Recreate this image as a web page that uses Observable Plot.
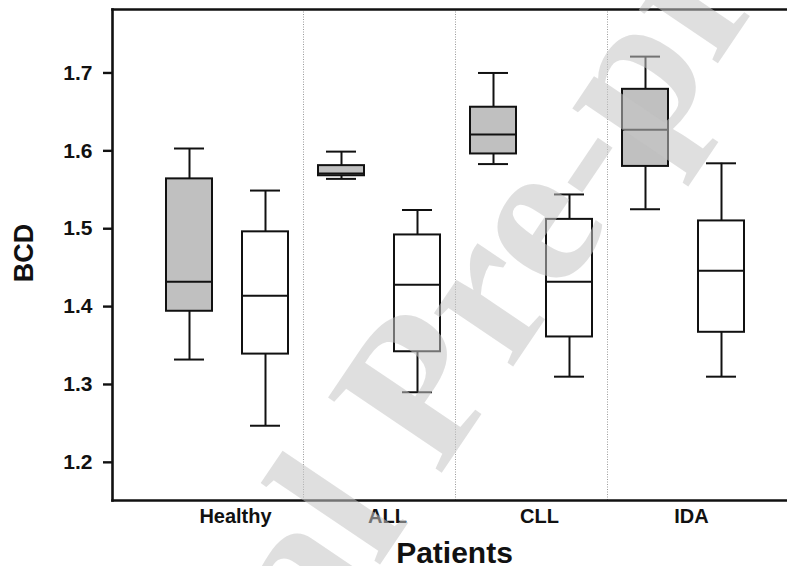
<!DOCTYPE html>
<html>
<head>
<meta charset="utf-8">
<script src="https://cdn.jsdelivr.net/npm/d3@7"></script>
<script src="https://cdn.jsdelivr.net/npm/@observablehq/plot@0.6"></script>
<style>
  html, body { margin: 0; padding: 0; background: #fff; }
  #chart { width: 787px; height: 566px; overflow: hidden; }
</style>
</head>
<body>
<div id="chart"></div>
<script>
// ---- data ----
const groups = ["Healthy", "ALL", "CLL", "IDA"];
const yTicks = [1.2, 1.3, 1.4, 1.5, 1.6, 1.7];

// grey (first) boxes
const grayLow  = [1.332, 1.564, 1.583, 1.525];
const grayQ1   = [1.394, 1.568, 1.596, 1.580];
const grayMed  = [1.432, 1.571, 1.621, 1.627];
const grayQ3   = [1.564, 1.581, 1.656, 1.679];
const grayHigh = [1.603, 1.599, 1.700, 1.721];

// white (second) boxes
const whiteLow  = [1.247, 1.290, 1.310, 1.310];
const whiteQ1   = [1.339, 1.342, 1.361, 1.367];
const whiteMed  = [1.414, 1.428, 1.432, 1.446];
const whiteQ3   = [1.496, 1.492, 1.512, 1.510];
const whiteHigh = [1.549, 1.524, 1.544, 1.584];

const watermark = "Journal Pre-proof";

// ---- build tables ----
const grayRows = groups.map((g, i) => ({key: g + "|gray", low: grayLow[i], q1: grayQ1[i], med: grayMed[i], q3: grayQ3[i], high: grayHigh[i]}));
const whiteRows = groups.map((g, i) => ({key: g + "|white", low: whiteLow[i], q1: whiteQ1[i], med: whiteMed[i], q3: whiteQ3[i], high: whiteHigh[i]}));
const allRows = grayRows.concat(whiteRows);
const keys = groups.flatMap(g => [g + "|gray", g + "|white"]);

const W = 787, H = 566;
const lineW = 2;

const chart = Plot.plot({
  width: W,
  height: H,
  marginLeft: 112,
  marginRight: 0,
  marginTop: 9,
  marginBottom: 66,
  style: {fontFamily: "'Liberation Sans', Arial, sans-serif", background: "#fff", color: "#111", overflow: "hidden"},
  x: {type: "band", domain: keys, range: [150.3, 758.3], paddingInner: 0.4, paddingOuter: 0.2, axis: null},
  y: {domain: [1.151, 1.7815], axis: null},
  marks: [
    // group separators
    Plot.ruleX(groups.slice(1).map(g => g + "|gray"), {x: d => d, dx: -38, stroke: "#9a9a9a", strokeWidth: 1, strokeDasharray: "1,1.5"}),
    // whiskers
    Plot.ruleX(allRows, {x: "key", y1: "low", y2: "q1", stroke: "#111", strokeWidth: lineW}),
    Plot.ruleX(allRows, {x: "key", y1: "q3", y2: "high", stroke: "#111", strokeWidth: lineW}),
    Plot.tickY(allRows, {x: "key", y: "low", stroke: "#111", strokeWidth: lineW, insetLeft: 8, insetRight: 8}),
    Plot.tickY(allRows, {x: "key", y: "high", stroke: "#111", strokeWidth: lineW, insetLeft: 8, insetRight: 8}),
    // boxes
    Plot.barY(grayRows, {x: "key", y1: "q1", y2: "q3", fill: "#c0c0c0", stroke: "#111", strokeWidth: lineW}),
    Plot.barY(whiteRows, {x: "key", y1: "q1", y2: "q3", fill: "#ffffff", stroke: "#111", strokeWidth: lineW}),
    Plot.tickY(allRows, {x: "key", y: "med", stroke: "#111", strokeWidth: lineW}),
    // frame (left, top, bottom)
    Plot.frame({anchor: "left", stroke: "#111", strokeWidth: 2.6}),
    Plot.frame({anchor: "top", stroke: "#111", strokeWidth: 2.6}),
    Plot.frame({anchor: "bottom", stroke: "#111", strokeWidth: 2.6}),
    // y axis
    Plot.axisY(yTicks, {tickSize: 9, tickPadding: 11, strokeWidth: 2.4, stroke: "#111", fontSize: 21, fontWeight: "bold", fill: "#111", tickFormat: d => d.toFixed(1), label: null}),
    Plot.text(["BCD"], {frameAnchor: "left", textAnchor: "middle", lineAnchor: "middle", dx: -88, dy: -2, rotate: -90, fontSize: 27, fontWeight: "bold", fill: "#111", text: d => d}),
    // x labels
    Plot.text(groups, {x: g => g + "|gray", dx: 46, frameAnchor: "bottom", textAnchor: "middle", lineAnchor: "middle", dy: 16, fontSize: 20, fontWeight: "bold", fill: "#111", text: d => d}),
    // watermark
    Plot.text([watermark], {frameAnchor: "top-left", textAnchor: "middle", lineAnchor: "middle", dx: 303, dy: 383, rotate: -56, fontSize: 208, fontFamily: "'Liberation Serif', 'DejaVu Serif', serif", fontWeight: "bold", fill: "#c4c4c4", fillOpacity: 0.55, text: d => d}),
    // x-axis title (drawn over the watermark, as in the reference)
    Plot.text(["Patients"], {frameAnchor: "bottom", textAnchor: "middle", lineAnchor: "middle", dx: 4.5, dy: 53, fontSize: 30, fontWeight: "bold", fill: "#111", text: d => d})
  ]
});
document.getElementById("chart").appendChild(chart);
</script>
</body>
</html>
